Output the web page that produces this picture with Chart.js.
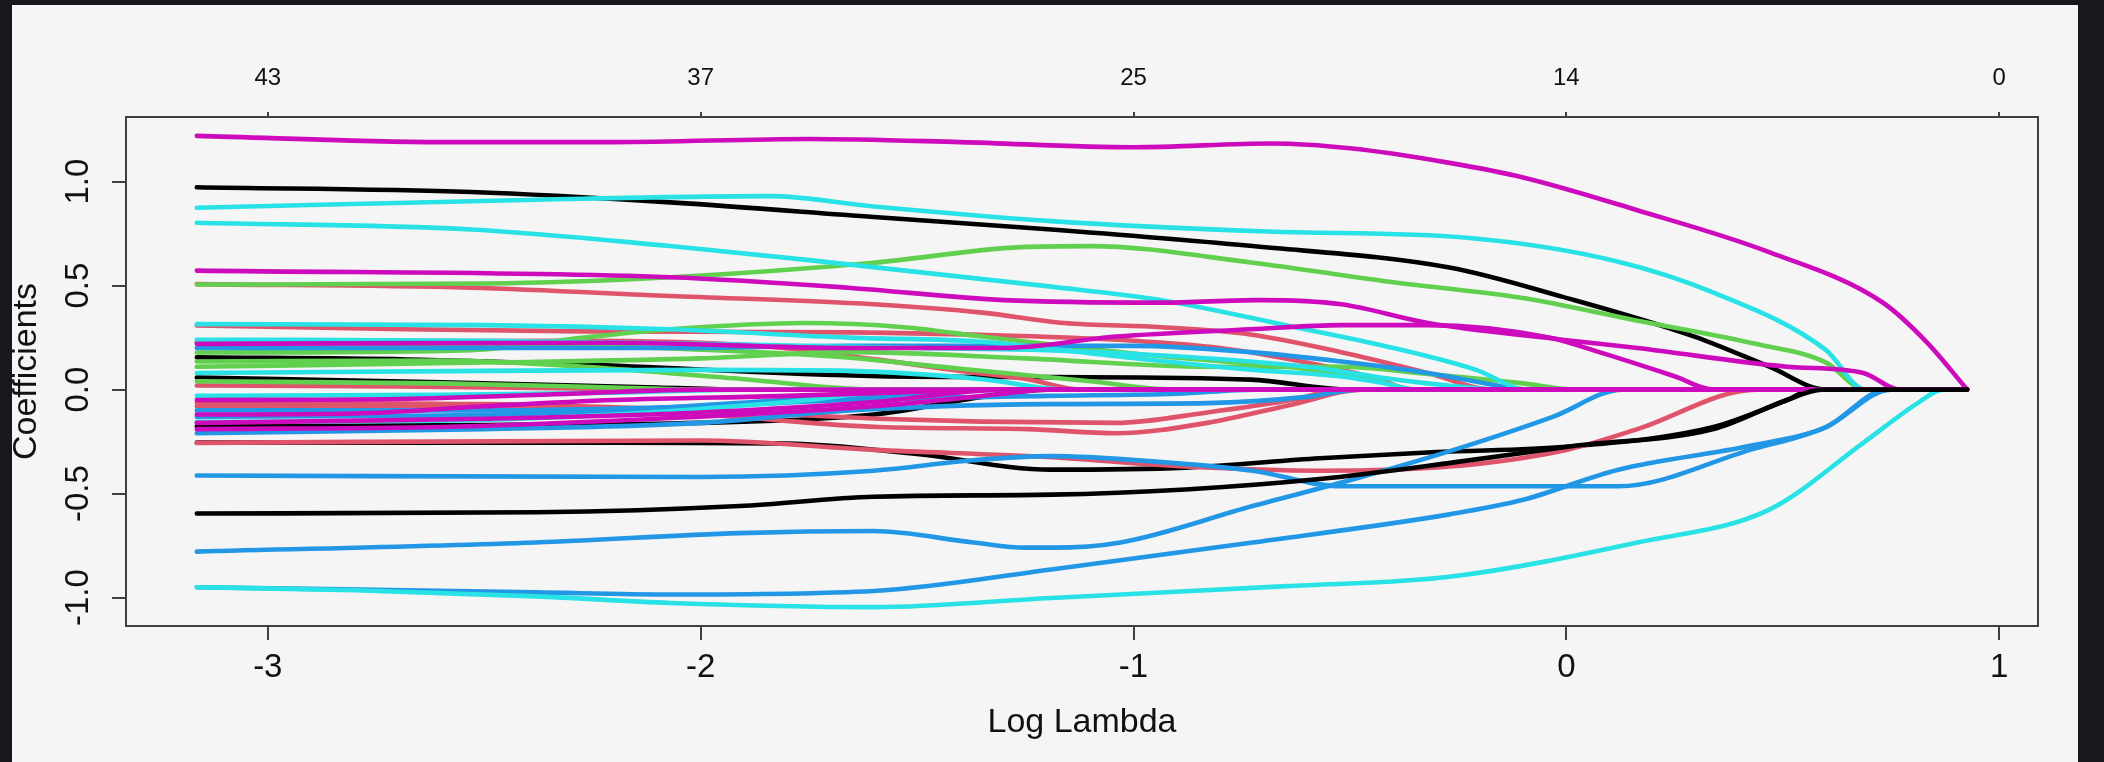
<!DOCTYPE html>
<html>
<head>
<meta charset="utf-8">
<script src="https://cdn.jsdelivr.net/npm/chart.js@4.4.1/dist/chart.umd.min.js"></script>
<style>
  html, body { margin: 0; background: #17181c; }
  #panel { position: absolute; left: 12px; top: 5px; width: 2066px; height: 757px; background: #f5f5f5; }
  canvas { position: absolute; left: 0; top: 0; }
</style>
</head>
<body>
<div id="panel"></div>
<canvas id="path-chart" width="2104" height="762"></canvas>
<script>
// axis ticks
const logLambdaTicks = [-3, -2, -1, 0, 1];
const dfLabels = ['43', '37', '25', '14', '0']; // non-zero coefficients, top axis
const coefTicks = [-1, -0.5, 0, 0.5, 1];
const coefTickLabels = ['-1.0', '-0.5', '0.0', '0.5', '1.0'];

// coefficient paths, [log lambda, coefficient], grouped by line colour
const blackPaths = [
  [[-3.164,0.973],[-2.53,0.95],[-2.07,0.90],[-1.6,0.83],[-1.19,0.77],[-0.725,0.69],[-0.27,0.587],[-0.01,0.447],[0.296,0.255],[0.469,0.11],[0.6,0],[0.926,0]],
  [[-3.164,0.155],[-2.68,0.145],[-2.27,0.12],[-1.59,0.065],[-1.19,0.06],[-0.73,0.048],[-0.5,0],[0.926,0]],
  [[-3.164,0.058],[-2.6,0.035],[-2.1,0.01],[-1.9,0],[0.926,0]],
  [[-3.164,-0.178],[-2.5,-0.17],[-2.0,-0.16],[-1.6,-0.12],[-1.35,-0.035],[-1.2,0],[0.926,0]],
  [[-3.164,-0.255],[-2.2,-0.255],[-1.8,-0.26],[-1.5,-0.31],[-1.19,-0.385],[-0.88,-0.375],[-0.57,-0.33],[-0.3,-0.3],[0.0,-0.275],[0.34,-0.18],[0.51,-0.05],[0.57,0],[0.926,0]]
];
const redPaths = [
  [[-3.164,0.507],[-2.53,0.49],[-2.07,0.45],[-1.6,0.41],[-1.35,0.37],[-1.16,0.32],[-0.935,0.30],[-0.73,0.265],[-0.52,0.18],[-0.32,0.08],[-0.17,0],[0.926,0]],
  [[-3.164,0.309],[-2.68,0.29],[-2.27,0.28],[-1.656,0.275],[-1.3,0.26],[-1.0,0.235],[-0.8,0.2],[-0.6,0.13],[-0.45,0.06],[-0.35,0],[0.926,0]],
  [[-3.164,-0.256],[-2.0,-0.245],[-1.6,-0.29],[-1.19,-0.325],[-0.88,-0.37],[-0.57,-0.39],[-0.27,-0.37],[0.0,-0.29],[0.164,-0.19],[0.44,0],[0.926,0]],
  [[-3.164,-0.063],[-2.5,-0.07],[-2.0,-0.10],[-1.59,-0.14],[-1.35,-0.154],[-1.04,-0.16],[-0.83,-0.11],[-0.63,-0.048],[-0.52,0],[0.926,0]],
  [[-3.164,-0.08],[-2.5,-0.085],[-2.0,-0.12],[-1.59,-0.18],[-1.245,-0.19],[-1.04,-0.21],[-0.83,-0.16],[-0.63,-0.07],[-0.47,0],[0.926,0]],
  [[-3.164,0.23],[-2.3,0.235],[-1.86,0.21],[-1.59,0.144],[-1.4,0.09],[-1.245,0.05],[-1.12,0],[0.926,0]],
  [[-3.164,0.02],[-2.7,0.015],[-2.3,0.005],[-2.1,0],[0.926,0]]
];
const greenPaths = [
  [[-3.164,0.505],[-2.5,0.51],[-2.07,0.54],[-1.6,0.61],[-1.26,0.685],[-1.1,0.69],[-0.725,0.61],[-0.415,0.52],[-0.1,0.44],[0.15,0.337],[0.425,0.225],[0.6,0.13],[0.69,0],[0.926,0]],
  [[-3.164,0.178],[-2.53,0.19],[-2.27,0.25],[-2.07,0.29],[-1.76,0.32],[-1.53,0.30],[-1.35,0.255],[-0.935,0.16],[-0.63,0.106],[-0.45,0.05],[-0.35,0],[0.926,0]],
  [[-3.164,0.11],[-2.5,0.13],[-2.0,0.15],[-1.656,0.18],[-1.25,0.15],[-0.83,0.11],[-0.52,0.11],[-0.32,0.075],[-0.1,0.03],[0.02,0],[0.926,0]],
  [[-3.164,0.04],[-2.6,0.03],[-2.2,0.01],[-2.0,0],[0.926,0]],
  [[-3.164,0.135],[-2.6,0.14],[-2.27,0.11],[-1.9,0.05],[-1.59,0],[0.926,0]],
  [[-3.164,0.225],[-2.6,0.22],[-2.1,0.2],[-1.7,0.16],[-1.4,0.1],[-1.1,0.04],[-0.9,0],[0.926,0]]
];
const bluePaths = [
  [[-3.164,-0.413],[-2.0,-0.42],[-1.6,-0.39],[-1.37,-0.34],[-1.19,-0.32],[-0.956,-0.345],[-0.725,-0.39],[-0.52,-0.465],[0.12,-0.465],[0.425,-0.29],[0.6,-0.18],[0.75,0],[0.926,0]],
  [[-3.164,-0.779],[-2.38,-0.735],[-1.91,-0.69],[-1.6,-0.68],[-1.37,-0.735],[-1.25,-0.76],[-1.19,-0.76],[-1.03,-0.735],[-0.725,-0.56],[-0.49,-0.43],[-0.26,-0.29],[-0.03,-0.13],[0.13,0],[0.926,0]],
  [[-3.164,-0.95],[-2.38,-0.975],[-2.07,-0.985],[-1.6,-0.968],[-1.19,-0.865],[-0.725,-0.735],[-0.27,-0.60],[-0.1,-0.53],[0.12,-0.385],[0.425,-0.27],[0.6,-0.18],[0.74,0],[0.926,0]],
  [[-3.164,-0.10],[-2.5,-0.10],[-2.0,-0.08],[-1.656,-0.05],[-1.2,-0.03],[-0.9,-0.02],[-0.72,0],[0.926,0]],
  [[-3.164,-0.21],[-2.5,-0.19],[-2.0,-0.16],[-1.656,-0.10],[-1.2,-0.07],[-0.83,-0.065],[-0.6,-0.035],[-0.48,0],[0.926,0]],
  [[-3.164,0.20],[-2.5,0.2],[-2.07,0.2],[-1.656,0.21],[-1.0,0.21],[-0.73,0.18],[-0.52,0.135],[-0.32,0.08],[-0.16,0.02],[-0.1,0],[0.926,0]],
  [[-3.164,-0.13],[-2.6,-0.125],[-2.2,-0.1],[-1.8,-0.05],[-1.5,-0.02],[-1.3,0],[0.926,0]]
];
const cyanPaths = [
  [[-3.164,0.874],[-2.38,0.913],[-1.84,0.93],[-1.6,0.88],[-1.19,0.81],[-0.69,0.76],[-0.23,0.73],[0.12,0.615],[0.34,0.466],[0.6,0.19],[0.69,0],[0.926,0]],
  [[-3.164,0.802],[-2.53,0.77],[-2.07,0.69],[-1.76,0.625],[-1.19,0.495],[-0.935,0.43],[-0.626,0.30],[-0.42,0.21],[-0.21,0.096],[-0.09,0],[0.926,0]],
  [[-3.164,-0.95],[-2.8,-0.965],[-2.38,-0.994],[-2.07,-1.026],[-1.6,-1.046],[-1.19,-1.002],[-0.646,-0.945],[-0.27,-0.90],[0.164,-0.735],[0.469,-0.577],[0.686,-0.256],[0.815,-0.06],[0.87,0],[0.926,0]],
  [[-3.164,-0.03],[-2.6,-0.025],[-2.2,-0.015],[-1.9,0],[0.926,0]],
  [[-3.164,-0.155],[-2.6,-0.15],[-2.2,-0.12],[-1.8,-0.06],[-1.5,0],[0.926,0]],
  [[-3.164,0.315],[-2.5,0.31],[-2.07,0.29],[-1.656,0.25],[-1.35,0.23],[-1.04,0.16],[-0.73,0.096],[-0.52,0.063],[-0.42,0.03],[-0.35,0],[0.926,0]],
  [[-3.164,0.24],[-2.5,0.235],[-2.0,0.22],[-1.5,0.2],[-1.2,0.19],[-0.9,0.16],[-0.6,0.11],[-0.4,0.05],[-0.25,0.015],[-0.15,0],[0.926,0]],
  [[-3.164,0.08],[-2.5,0.09],[-2.0,0.095],[-1.656,0.09],[-1.35,0.05],[-1.15,0],[0.926,0]]
];
const magentaPaths = [
  [[-3.164,1.22],[-2.6,1.19],[-2.2,1.19],[-1.75,1.205],[-1.4,1.19],[-1.0,1.165],[-0.68,1.183],[-0.5,1.16],[-0.27,1.09],[-0.1,1.02],[0.16,0.865],[0.47,0.66],[0.73,0.42],[0.834,0.225],[0.926,0]],
  [[-3.164,0.572],[-2.07,0.54],[-1.66,0.49],[-1.3,0.43],[-0.935,0.418],[-0.71,0.43],[-0.52,0.41],[-0.32,0.32],[-0.01,0.24],[0.164,0.20],[0.51,0.11],[0.686,0.08],[0.77,0],[0.926,0]],
  [[-3.164,0.22],[-2.2,0.225],[-1.66,0.2],[-1.3,0.2],[-1.04,0.255],[-0.73,0.29],[-0.52,0.31],[-0.32,0.31],[-0.04,0.25],[0.076,0.18],[0.25,0.064],[0.34,0],[0.926,0]],
  [[-3.164,-0.12],[-2.8,-0.115],[-2.5,-0.08],[-2.2,-0.05],[-1.8,-0.03],[-1.5,-0.01],[-1.35,0],[0.926,0]],
  [[-3.164,-0.19],[-2.6,-0.18],[-2.2,-0.15],[-1.6,-0.08],[-1.3,-0.02],[-1.2,0],[0.926,0]],
  [[-3.164,-0.05],[-2.7,-0.045],[-2.3,-0.02],[-2.0,0],[0.926,0]],
  [[-3.164,-0.16],[-2.5,-0.14],[-2.0,-0.11],[-1.6,-0.06],[-1.3,0],[0.926,0]]
];
// last column of the fit, drawn on top of everything
const lastBlackPath = [[-3.164,-0.596],[-2.38,-0.59],[-1.91,-0.56],[-1.6,-0.515],[-1.19,-0.505],[-0.88,-0.48],[-0.57,-0.43],[-0.26,-0.35],[0.02,-0.27],[0.34,-0.19],[0.51,-0.05],[0.59,0],[0.926,0]];

const fontFamily = "'Liberation Sans', Arial, Helvetica, sans-serif";
const inkColor = '#111';
const axisColor = '#404040';

// drawing order, first group at the bottom
const groups = [
  [blackPaths, '#000000'],
  [redPaths, '#DF536B'],
  [greenPaths, '#61D04F'],
  [bluePaths, '#2297E6'],
  [cyanPaths, '#28E2E5'],
  [magentaPaths, '#CD0BBC'],
  [[lastBlackPath], '#000000']
];

const datasets = [];
groups.forEach(([paths, colour]) => {
  paths.forEach(p => {
    datasets.push({
      data: p.map(([x, y]) => ({ x, y })),
      borderColor: colour,
      borderWidth: 4.6,
      borderCapStyle: 'round',
      borderJoinStyle: 'round',
      cubicInterpolationMode: 'monotone',
      pointRadius: 0,
      fill: false
    });
  });
});
// Chart.js paints dataset 0 last (on top), so flip to keep the order above
datasets.reverse();

// R style limits: data range padded by 4% each side
const allPts = groups.flatMap(([paths]) => paths.flat());
const xs = allPts.map(p => p[0]);
const ys = allPts.map(p => p[1]);
const pad = (lo, hi) => [lo - 0.04 * (hi - lo), hi + 0.04 * (hi - lo)];
const [xMin, xMax] = pad(Math.min(...xs), Math.max(...xs));
const [yMin, yMax] = pad(Math.min(...ys), Math.max(...ys));

const tickFont = { family: fontFamily, size: 33 };
const titleFont = { family: fontFamily, size: 34 };

new Chart(document.getElementById('path-chart'), {
  type: 'line',
  data: { datasets },
  options: {
    responsive: false,
    animation: false,
    devicePixelRatio: 1,
    layout: { padding: 0 },
    plugins: { legend: { display: false }, tooltip: { enabled: false } },
    scales: {
      x: {
        type: 'linear', position: 'bottom', min: xMin, max: xMax,
        afterBuildTicks: s => { s.ticks = logLambdaTicks.map(v => ({ value: v })); },
        afterFit: s => { s.height = 136; },
        grid: { drawOnChartArea: false, tickLength: 14, color: axisColor, lineWidth: 2 },
        border: { display: true, color: axisColor, width: 2 },
        ticks: { color: inkColor, font: tickFont, padding: 8, maxRotation: 0, autoSkip: false,
                 callback: v => String(v) },
        title: { display: true, text: 'Log Lambda', color: inkColor, font: titleFont,
                 padding: { top: 0, bottom: 19 } }
      },
      x2: {
        type: 'linear', position: 'top', min: xMin, max: xMax,
        afterBuildTicks: s => { s.ticks = logLambdaTicks.map(v => ({ value: v })); },
        afterFit: s => { s.height = 117; },
        grid: { drawOnChartArea: false, tickLength: 5, color: axisColor, lineWidth: 2 },
        border: { display: true, color: axisColor, width: 2 },
        ticks: { color: inkColor, font: { family: fontFamily, size: 24 }, padding: 19,
                 maxRotation: 0, autoSkip: false, callback: (v, i) => dfLabels[i] }
      },
      y: {
        type: 'linear', position: 'left', min: yMin, max: yMax,
        afterBuildTicks: s => { s.ticks = coefTicks.map(v => ({ value: v })); },
        afterFit: s => { s.width = 126; },
        grid: { drawOnChartArea: false, tickLength: 14, color: axisColor, lineWidth: 2 },
        border: { display: true, color: axisColor, width: 2 },
        ticks: { color: inkColor, font: tickFont, padding: 5, minRotation: 90, maxRotation: 90,
                 crossAlign: 'center', autoSkip: false, callback: (v, i) => coefTickLabels[i] },
        title: { display: true, text: 'Coefficients', color: inkColor, font: titleFont,
                 padding: { top: 6, bottom: 0 } }
      },
      y2: {
        type: 'linear', position: 'right', min: yMin, max: yMax,
        afterFit: s => { s.width = 66; },
        grid: { display: false },
        border: { display: true, color: axisColor, width: 2 },
        ticks: { display: false }
      }
    }
  }
});
</script>
</body>
</html>
